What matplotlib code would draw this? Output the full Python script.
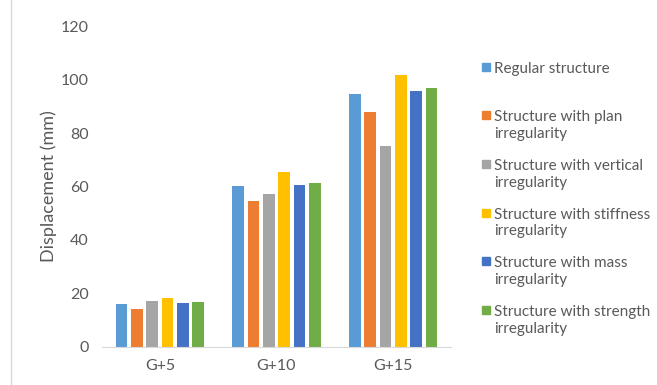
import numpy as np
import matplotlib.pyplot as plt
from matplotlib.lines import Line2D
from matplotlib.patches import Rectangle

plt.rcParams['font.family'] = ['Lato', 'DejaVu Sans']

categories = ['G+5', 'G+10', 'G+15']
series_names = ['Regular structure',
                'Structure with plan\nirregularity',
                'Structure with vertical\nirregularity',
                'Structure with stiffness\nirregularity',
                'Structure with mass\nirregularity',
                'Structure with strength\nirregularity']
regular = [16.0, 60.2, 94.7]
plan = [14.1, 54.6, 87.8]
vertical = [17.1, 57.1, 75.3]
stiffness = [18.1, 65.5, 101.9]
mass = [16.4, 60.7, 95.7]
strength = [16.6, 61.4, 96.8]
colores = ['#5B9BD5', '#ED7D31', '#A5A5A5', '#FFC000', '#4472C4', '#70AD47']

valores = [regular, plan, vertical, stiffness, mass, strength]
gris = '#595959'
W, H = 657, 385

fig = plt.figure(figsize=(6.57, 3.85), dpi=100)
ax = fig.add_axes([101.5/W, 1-346.5/H, 350/W, 320/H])

x = np.arange(len(categories))
paso = 0.131
ancho = 0.10
for i, (v, c) in enumerate(zip(valores, colores)):
    ax.bar(x + (i - 2.5) * paso, v, width=ancho, color=c)

ax.set_xlim(-0.5, 2.5)
ax.set_ylim(0, 120)
ax.set_yticks(range(0, 121, 20))
ax.set_xticks(x)
ax.set_xticklabels(categories)
ax.tick_params(length=0, colors=gris, labelsize=11.5)
ax.tick_params(axis='y', pad=9)
ax.tick_params(axis='x', pad=9)
for s in ['top', 'right', 'left']:
    ax.spines[s].set_visible(False)
ax.spines['bottom'].set_color('#D9D9D9')
ax.set_ylabel('Displacement (mm)', color=gris, fontsize=13, labelpad=3)

# borde izquierdo del recuadro
fig.add_artist(Line2D([11/W, 11/W], [0, 1], color='#D9D9D9', lw=1))

# leyenda a mano, con espaciado igual entre entradas
y0 = 66.5
paso_y = 48.7
for i, (nombre, c) in enumerate(zip(series_names, colores)):
    yc = y0 + i * paso_y
    fig.add_artist(Rectangle((482/W, 1-(yc+4)/H), 8/W, 8/H, color=c,
                             transform=fig.transFigure))
    fig.text(494/W, 1-(yc-5)/H, nombre, color=gris, fontsize=11,
             va='top', ha='left', linespacing=1.25)

plt.savefig('out.png', dpi=100)
